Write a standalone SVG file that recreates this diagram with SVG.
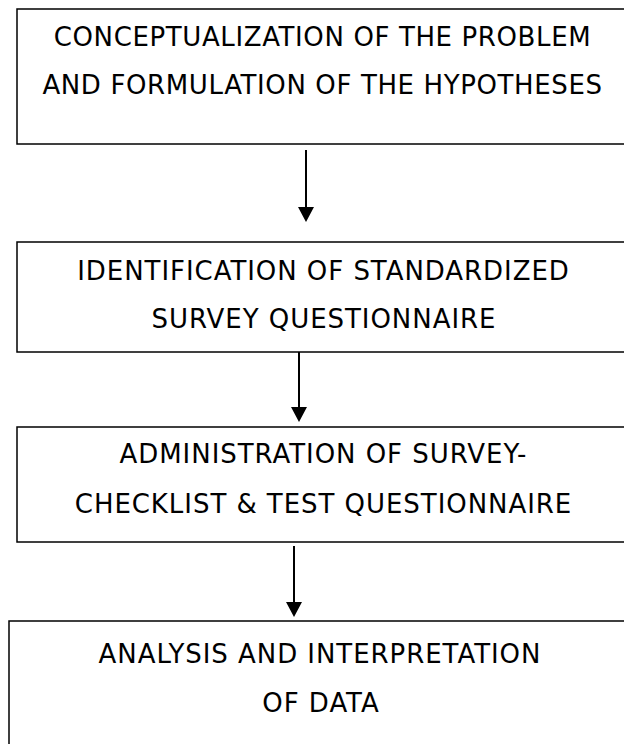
<svg xmlns="http://www.w3.org/2000/svg" width="624" height="744" viewBox="0 0 624 744">
  <style>
    .box { fill: #ffffff; stroke: #000000; stroke-width: 1.5; }
    .lbl { font-family: "DejaVu Sans", Verdana, sans-serif; font-size: 26px; letter-spacing: 0.95px; fill: #000000; text-anchor: middle; }
    .lbl1 { letter-spacing: 0.62px; }
    .conn { stroke: #000000; stroke-width: 2; fill: none; }
    .head { fill: #000000; }
  </style>
  <rect width="624" height="744" fill="#ffffff"/>
  <g id="node1">
    <rect class="box" x="17" y="9" width="614" height="135"/>
    <text class="lbl lbl1" x="322.5" y="46">CONCEPTUALIZATION OF THE PROBLEM</text>
    <text class="lbl lbl1" x="322.5" y="94">AND FORMULATION OF THE HYPOTHESES</text>
  </g>
  <g id="node2">
    <rect class="box" x="17" y="242" width="614" height="110"/>
    <text class="lbl" x="323.5" y="280">IDENTIFICATION OF STANDARDIZED</text>
    <text class="lbl" x="324" y="328">SURVEY QUESTIONNAIRE</text>
  </g>
  <g id="node3">
    <rect class="box" x="17" y="427" width="614" height="115"/>
    <text class="lbl" x="323.5" y="463">ADMINISTRATION OF SURVEY-</text>
    <text class="lbl" x="323.5" y="513">CHECKLIST &amp; TEST QUESTIONNAIRE</text>
  </g>
  <g id="node4">
    <rect class="box" x="9" y="621" width="622" height="140"/>
    <text class="lbl" x="320" y="663">ANALYSIS AND INTERPRETATION</text>
    <text class="lbl" x="321" y="712">OF DATA</text>
  </g>
  <g id="connectors">
    <path class="conn" d="M306,150 L306,207"/>
    <polygon class="head" points="298,207 314,207 306,222"/>
    <path class="conn" d="M299,352 L299,407"/>
    <polygon class="head" points="291,407 307,407 299,422"/>
    <path class="conn" d="M294,546 L294,602"/>
    <polygon class="head" points="286,602 302,602 294,617"/>
  </g>
</svg>
